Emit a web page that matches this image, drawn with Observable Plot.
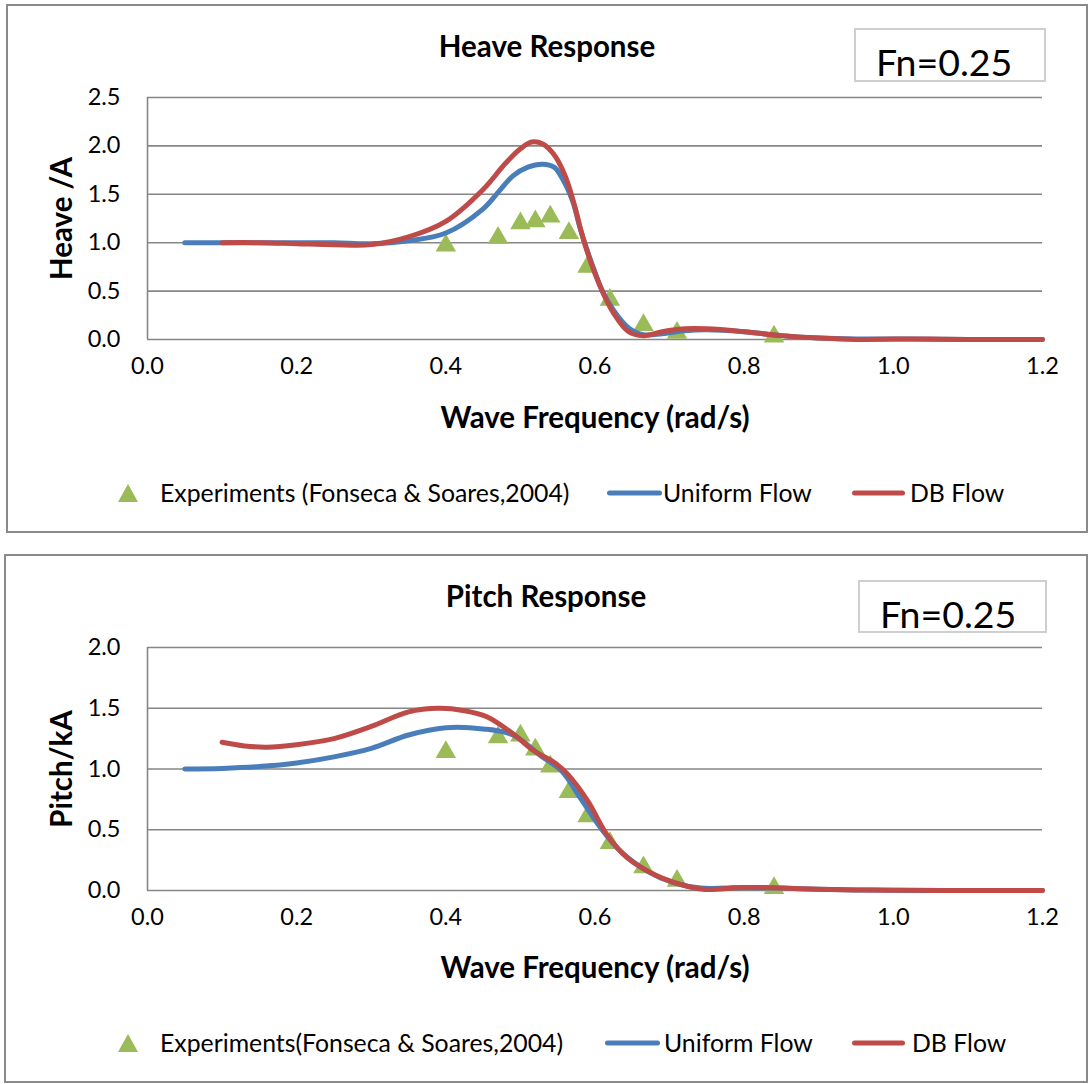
<!DOCTYPE html>
<html><head><meta charset="utf-8">
<script src="https://cdn.jsdelivr.net/npm/d3@7"></script>
<script src="https://cdn.jsdelivr.net/npm/@observablehq/plot@0.6"></script>
<style>
body{margin:0;background:#fff;font-family:Lato,sans-serif;color:#000;}
#wrap{position:relative;width:1089px;height:1084px;overflow:hidden;background:#fff;}
.svgbox{position:absolute;left:0;}
.panel{position:absolute;border:2px solid #8a8a8a;box-sizing:border-box;pointer-events:none;}
.title{position:absolute;font-weight:bold;font-size:29.5px;transform:translate(-50%,-50%);white-space:nowrap;line-height:1;}
.fn{position:absolute;border:2px solid #cfcfcf;box-sizing:border-box;background:#fff;}
.fn span{position:absolute;font-size:37.5px;line-height:1;white-space:nowrap;}
.leg{position:absolute;font-size:24.8px;white-space:nowrap;transform:translateY(-50%);line-height:1;}
.lline{position:absolute;height:5px;border-radius:3px;transform:translateY(-50%);}
.ltri{position:absolute;transform:translate(-50%,-50%);}
</style>
</head><body>
<div id="wrap"></div>
<script>
// ---- data ----
const xTicks = [0, 0.2, 0.4, 0.6, 0.8, 1.0, 1.2];
const heaveTicks = [0, 0.5, 1.0, 1.5, 2.0, 2.5];
const pitchTicks = [0, 0.5, 1.0, 1.5, 2.0];

const expFreq = [0.40, 0.47, 0.50, 0.52, 0.54, 0.565, 0.59, 0.62, 0.665, 0.71, 0.84];
const heaveExp = [0.97, 1.05, 1.20, 1.22, 1.27, 1.10, 0.75, 0.41, 0.15, 0.07, 0.03];
const pitchExp = [1.14, 1.26, 1.275, 1.16, 1.02, 0.81, 0.61, 0.39, 0.19, 0.08, 0.02];

const heaveUniFreq = [0.05, 0.1, 0.15, 0.2, 0.25, 0.3, 0.35, 0.4, 0.45, 0.47, 0.49, 0.51, 0.53, 0.545, 0.555, 0.57, 0.58, 0.595, 0.61, 0.625, 0.645, 0.665, 0.69, 0.72, 0.75, 0.8, 0.85, 0.9, 0.95, 1.0, 1.05, 1.1, 1.2];
const heaveUni = [1.0, 1.0, 1.0, 1.0, 1.0, 0.99, 1.02, 1.10, 1.35, 1.52, 1.69, 1.78, 1.81, 1.78, 1.68, 1.43, 1.15, 0.80, 0.50, 0.30, 0.12, 0.05, 0.06, 0.09, 0.10, 0.08, 0.04, 0.015, 0.005, 0.005, 0.003, 0.0, 0.0];

const heaveDBFreq = [0.1, 0.15, 0.2, 0.25, 0.3, 0.35, 0.4, 0.45, 0.48, 0.5, 0.515, 0.53, 0.545, 0.56, 0.572, 0.585, 0.6, 0.612, 0.625, 0.645, 0.665, 0.69, 0.72, 0.75, 0.8, 0.85, 0.9, 0.95, 1.0, 1.05, 1.1, 1.2];
const heaveDB = [1.0, 1.0, 0.99, 0.98, 0.98, 1.06, 1.22, 1.55, 1.82, 1.97, 2.04, 2.02, 1.91, 1.69, 1.40, 1.02, 0.68, 0.46, 0.27, 0.08, 0.04, 0.08, 0.11, 0.11, 0.08, 0.04, 0.015, 0.0, 0.005, 0.005, 0.0, 0.0];

const pitchUniFreq = [0.05, 0.1, 0.15, 0.2, 0.25, 0.3, 0.35, 0.4, 0.45, 0.49, 0.527, 0.555, 0.58, 0.607, 0.634, 0.67, 0.705, 0.742, 0.8, 0.85, 0.9, 0.95, 1.0, 1.1, 1.2];
const pitchUni = [1.0, 1.005, 1.02, 1.05, 1.10, 1.17, 1.28, 1.34, 1.33, 1.28, 1.11, 0.985, 0.765, 0.52, 0.325, 0.16, 0.065, 0.02, 0.025, 0.02, 0.01, 0.005, 0.003, 0.0, 0.0];

const pitchDBFreq = [0.1, 0.13, 0.16, 0.2, 0.25, 0.3, 0.35, 0.39, 0.425, 0.455, 0.49, 0.518, 0.545, 0.563, 0.59, 0.616, 0.643, 0.68, 0.715, 0.745, 0.8, 0.85, 0.9, 0.95, 1.0, 1.1, 1.2];
const pitchDB = [1.22, 1.19, 1.18, 1.20, 1.25, 1.35, 1.47, 1.50, 1.48, 1.43, 1.29, 1.15, 1.055, 0.96, 0.74, 0.46, 0.27, 0.13, 0.05, 0.01, 0.025, 0.02, 0.01, 0.005, 0.003, 0.0, 0.0];

const seriesNames = ["Uniform Flow", "DB Flow"];
// ---- colours ----
const C_GRID = "#868686", C_BLUE = "#4a7ebb", C_RED = "#be4b48", C_GREEN = "#9bbb59";

const zip = (xs, ys) => xs.map((x, i) => ({x, y: ys[i]}));
const fmt = d3.format(".1f");

function makePlot({yDomain, yTicks, exp, uni, db, yLabel, height, marginBottom, xLabelDy}) {
  return Plot.plot({
    width: 1089, height,
    marginTop: 97, marginBottom, marginLeft: 147, marginRight: 47,
    style: {fontFamily: "Lato, sans-serif", fontSize: "23.5px", color: "#000", background: "transparent", overflow: "visible"},
    x: {domain: [0, 1.2], ticks: xTicks, tickFormat: fmt, tickSize: 0, tickPadding: 18, label: null},
    y: {domain: yDomain, ticks: yTicks, tickFormat: fmt, tickSize: 0, tickPadding: 27, label: null},
    marks: [
      Plot.ruleY(yTicks, {stroke: C_GRID, strokeWidth: 1.6}),
      Plot.ruleX([0], {stroke: C_GRID, strokeWidth: 1.6}),
      Plot.dot(exp, {x: "x", y: "y", symbol: "triangle", r: 7.6, fill: C_GREEN}),
      Plot.line(uni, {x: "x", y: "y", stroke: C_BLUE, strokeWidth: 5, curve: "catmull-rom", strokeLinecap: "round", strokeLinejoin: "round"}),
      Plot.line(db, {x: "x", y: "y", stroke: C_RED, strokeWidth: 5, curve: "catmull-rom", strokeLinecap: "round", strokeLinejoin: "round"}),
      Plot.text([yLabel], {frameAnchor: "left", dx: -85, rotate: -90, textAnchor: "middle", lineAnchor: "middle", fontWeight: "bold", fontSize: 29.5, fill: "#000"}),
      Plot.text(["Wave Frequency (rad/s)"], {frameAnchor: "bottom", dy: xLabelDy, textAnchor: "middle", lineAnchor: "middle", fontWeight: "bold", fontSize: 29.5, fill: "#000"})
    ]
  });
}

const wrap = document.getElementById("wrap");
function add(html) { wrap.insertAdjacentHTML("beforeend", html); }

const p1 = makePlot({yDomain: [0, 2.5], yTicks: heaveTicks, exp: zip(expFreq, heaveExp), uni: zip(heaveUniFreq, heaveUni), db: zip(heaveDBFreq, heaveDB), yLabel: "Heave /A", height: 540, marginBottom: 201, xLabelDy: 79});
const p2 = makePlot({yDomain: [0, 2.0], yTicks: pitchTicks, exp: zip(expFreq, pitchExp), uni: zip(pitchUniFreq, pitchUni), db: zip(pitchDBFreq, pitchDB), yLabel: "Pitch/kA", height: 534, marginBottom: 194, xLabelDy: 78});

const b1 = document.createElement("div"); b1.className = "svgbox"; b1.style.top = "0px"; b1.appendChild(p1); wrap.appendChild(b1);
const b2 = document.createElement("div"); b2.className = "svgbox"; b2.style.top = "550px"; b2.appendChild(p2); wrap.appendChild(b2);

function legend(cy, expText, tx1, l2a, tx2, l3a, tx3) {
  add(`<svg class="ltri" style="left:128px;top:${cy}px" width="22" height="20"><polygon points="11,1 21,19 1,19" fill="${C_GREEN}"/></svg>`);
  add(`<div class="leg" style="left:${tx1}px;top:${cy}px">${expText}</div>`);
  add(`<div class="lline" style="left:${l2a}px;top:${cy}px;width:55px;background:${C_BLUE}"></div>`);
  add(`<div class="leg" style="left:${tx2}px;top:${cy}px">${seriesNames[0]}</div>`);
  add(`<div class="lline" style="left:${l3a}px;top:${cy}px;width:53px;background:${C_RED}"></div>`);
  add(`<div class="leg" style="left:${tx3}px;top:${cy}px">${seriesNames[1]}</div>`);
}

// top panel
add(`<div class="title" style="left:547px;top:46px">Heave Response</div>`);
add(`<div class="fn" style="left:854px;top:28px;width:192px;height:54px"><span style="left:20px;top:13px">Fn=0.25</span></div>`);
legend(493, "Experiments (Fonseca &amp; Soares,2004)", 160, 607, 663, 852, 910);
add(`<div class="panel" style="left:6px;top:4px;width:1082px;height:529px"></div>`);

// bottom panel
add(`<div class="title" style="left:546px;top:596px">Pitch Response</div>`);
add(`<div class="fn" style="left:858px;top:580px;width:189px;height:53px"><span style="left:20px;top:13px">Fn=0.25</span></div>`);
legend(1043, "Experiments(Fonseca &amp; Soares,2004)", 160, 605, 664, 852, 912);
add(`<div class="panel" style="left:4px;top:554px;width:1084px;height:529px"></div>`);
</script>
</body></html>
